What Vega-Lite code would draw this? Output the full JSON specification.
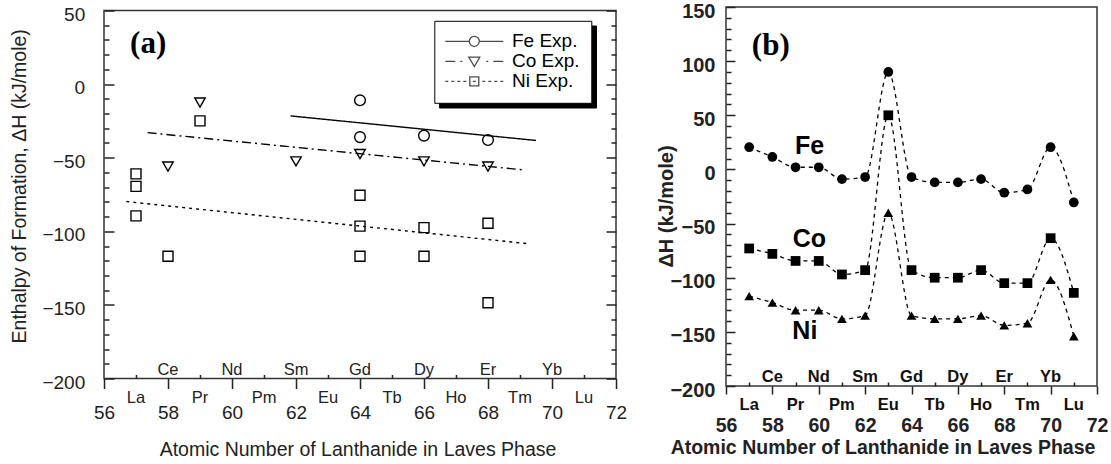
{
 "$schema": "https://vega.github.io/schema/vega-lite/v6.json",
 "padding": {"left": 8, "top": 0, "right": 0, "bottom": 0},
 "autosize": {"type": "pad"},
 "background": "white",
 "spacing": 27,
 "resolve": {"scale": {"shape": "independent", "fill": "independent", "strokeDash": "independent"}, "legend": {"shape": "independent", "fill": "independent", "strokeDash": "independent"}},
 "config": {
  "font": "Liberation Sans",
  "view": {"stroke": "#333", "strokeWidth": 1.5},
  "axis": {"grid": false, "domain": false, "tickColor": "#222", "tickWidth": 1.5, "labelColor": "#222", "titleColor": "#222", "labelOverlap": false, "labelFlush": false, "minExtent": 0}
 },
 "datasets": {
  "leftPts": [
   {"series": "Fe Exp.", "z": 64, "dH": -11}, {"series": "Fe Exp.", "z": 64, "dH": -36}, {"series": "Fe Exp.", "z": 66, "dH": -35}, {"series": "Fe Exp.", "z": 68, "dH": -38},
   {"series": "Co Exp.", "z": 58, "dH": -56}, {"series": "Co Exp.", "z": 59, "dH": -12.5}, {"series": "Co Exp.", "z": 62, "dH": -52.5}, {"series": "Co Exp.", "z": 64, "dH": -47.5}, {"series": "Co Exp.", "z": 66, "dH": -52.5}, {"series": "Co Exp.", "z": 68, "dH": -56},
   {"series": "Ni Exp.", "z": 57, "dH": -61}, {"series": "Ni Exp.", "z": 57, "dH": -69.5}, {"series": "Ni Exp.", "z": 57, "dH": -89.5}, {"series": "Ni Exp.", "z": 58, "dH": -117}, {"series": "Ni Exp.", "z": 59, "dH": -25}, {"series": "Ni Exp.", "z": 64, "dH": -75.5}, {"series": "Ni Exp.", "z": 64, "dH": -96.5}, {"series": "Ni Exp.", "z": 64, "dH": -117}, {"series": "Ni Exp.", "z": 66, "dH": -97.5}, {"series": "Ni Exp.", "z": 66, "dH": -117}, {"series": "Ni Exp.", "z": 68, "dH": -94.5}, {"series": "Ni Exp.", "z": 68, "dH": -148.5}
  ],
  "leftLines": [
   {"series": "Fe Exp.", "z": 61.83, "dH": -21.6}, {"series": "Fe Exp.", "z": 69.5, "dH": -38.3},
   {"series": "Co Exp.", "z": 57.36, "dH": -33}, {"series": "Co Exp.", "z": 69.16, "dH": -58.4},
   {"series": "Ni Exp.", "z": 56.7, "dH": -79.8}, {"series": "Ni Exp.", "z": 69.2, "dH": -108.3}
  ],
  "rightPts": [
   {"series": "Fe", "z": 57, "dH": 20.5}, {"series": "Fe", "z": 58, "dH": 11.5}, {"series": "Fe", "z": 59, "dH": 2}, {"series": "Fe", "z": 60, "dH": 2}, {"series": "Fe", "z": 61, "dH": -9}, {"series": "Fe", "z": 62, "dH": -7}, {"series": "Fe", "z": 63, "dH": 90}, {"series": "Fe", "z": 64, "dH": -7}, {"series": "Fe", "z": 65, "dH": -12}, {"series": "Fe", "z": 66, "dH": -12}, {"series": "Fe", "z": 67, "dH": -9}, {"series": "Fe", "z": 68, "dH": -21.5}, {"series": "Fe", "z": 69, "dH": -18.5}, {"series": "Fe", "z": 70, "dH": 20.5}, {"series": "Fe", "z": 71, "dH": -30.5},
   {"series": "Co", "z": 57, "dH": -73}, {"series": "Co", "z": 58, "dH": -78}, {"series": "Co", "z": 59, "dH": -84.5}, {"series": "Co", "z": 60, "dH": -84.5}, {"series": "Co", "z": 61, "dH": -97}, {"series": "Co", "z": 62, "dH": -93}, {"series": "Co", "z": 63, "dH": 50}, {"series": "Co", "z": 64, "dH": -93}, {"series": "Co", "z": 65, "dH": -100}, {"series": "Co", "z": 66, "dH": -100}, {"series": "Co", "z": 67, "dH": -93}, {"series": "Co", "z": 68, "dH": -105}, {"series": "Co", "z": 69, "dH": -105}, {"series": "Co", "z": 70, "dH": -63.5}, {"series": "Co", "z": 71, "dH": -114},
   {"series": "Ni", "z": 57, "dH": -117}, {"series": "Ni", "z": 58, "dH": -123}, {"series": "Ni", "z": 59, "dH": -130}, {"series": "Ni", "z": 60, "dH": -130}, {"series": "Ni", "z": 61, "dH": -138}, {"series": "Ni", "z": 62, "dH": -135}, {"series": "Ni", "z": 63, "dH": -40}, {"series": "Ni", "z": 64, "dH": -135}, {"series": "Ni", "z": 65, "dH": -138}, {"series": "Ni", "z": 66, "dH": -138}, {"series": "Ni", "z": 67, "dH": -135}, {"series": "Ni", "z": 68, "dH": -144}, {"series": "Ni", "z": 69, "dH": -142}, {"series": "Ni", "z": 70, "dH": -102}, {"series": "Ni", "z": 71, "dH": -154}
  ],
  "rightLabels": [
   {"label": "Fe", "z": 59.6, "dH": 22}, {"label": "Co", "z": 59.6, "dH": -64.6}, {"label": "Ni", "z": 59.4, "dH": -149}
  ],
  "elements": [
   {"z": 57, "el": "La"}, {"z": 58, "el": "Ce"}, {"z": 59, "el": "Pr"}, {"z": 60, "el": "Nd"}, {"z": 61, "el": "Pm"}, {"z": 62, "el": "Sm"}, {"z": 63, "el": "Eu"}, {"z": 64, "el": "Gd"}, {"z": 65, "el": "Tb"}, {"z": 66, "el": "Dy"}, {"z": 67, "el": "Ho"}, {"z": 68, "el": "Er"}, {"z": 69, "el": "Tm"}, {"z": 70, "el": "Yb"}, {"z": 71, "el": "Lu"}
  ]
 },
 "hconcat": [
  {
   "spacing": -4.5,
   "vconcat": [
    {"width": 512, "height": 1, "data": {"values": []}, "mark": "text", "view": {"stroke": null}},
    {
     "width": 512,
     "height": 368,
     "resolve": {"axis": {"x": "independent", "y": "independent"}, "legend": {"fill": "independent", "shape": "independent"}},
     "layer": [
      {
       "data": {"name": "leftLines"},
       "mark": {"type": "line", "color": "black", "strokeWidth": 1.4},
       "encoding": {
        "x": {"field": "z", "type": "quantitative", "scale": {"domain": [56, 72], "nice": false, "zero": false},
         "axis": {"orient": "bottom", "values": [56, 58, 60, 62, 64, 66, 68, 70, 72], "tickSize": 10, "labelFontSize": 19, "labelBaseline": "alphabetic", "labelPadding": 30, "title": "Atomic Number of Lanthanide in Laves Phase", "titleFontSize": 19.5, "titleFontWeight": "normal", "titleX": 253.5, "titleY": 76.6, "titleBaseline": "alphabetic", "titleAlign": "center"}},
        "y": {"field": "dH", "type": "quantitative", "scale": {"domain": [-200, 50], "nice": false, "zero": false},
         "axis": {"orient": "left", "values": [-200, -150, -100, -50, 0, 50], "tickSize": -10, "labelFontSize": 19, "labelPadding": 29.3, "labelOffset": 3.5, "title": "Enthalpy of Formation, ΔH (kJ/mole)", "titleFontSize": 19.5, "titleFontWeight": "normal", "titleX": -84.7, "titleY": 175.3, "titleAngle": 270, "titleBaseline": "middle", "titleAlign": "center"}},
        "strokeDash": {"field": "series", "type": "nominal", "scale": {"domain": ["Fe Exp.", "Co Exp.", "Ni Exp."], "range": [[1, 0], [9, 4, 2, 4], [3, 4]]}, "legend": null}
       }
      },
      {
       "data": {"name": "leftPts"},
       "transform": [{"filter": "datum.series == 'Fe Exp.'"}],
       "mark": {"type": "point", "shape": "circle", "filled": false, "color": "black", "size": 115, "strokeWidth": 1.4, "opacity": 1},
       "encoding": {"x": {"field": "z", "type": "quantitative", "axis": null}, "y": {"field": "dH", "type": "quantitative", "axis": null}}
      },
      {
       "data": {"name": "leftPts"},
       "transform": [{"filter": "datum.series == 'Co Exp.'"}],
       "mark": {"type": "point", "shape": "triangle-down", "filled": false, "color": "black", "size": 110, "strokeWidth": 1.4, "opacity": 1},
       "encoding": {"x": {"field": "z", "type": "quantitative", "axis": null}, "y": {"field": "dH", "type": "quantitative", "axis": null}}
      },
      {
       "data": {"name": "leftPts"},
       "transform": [{"filter": "datum.series == 'Ni Exp.'"}],
       "mark": {"type": "point", "shape": "square", "filled": false, "color": "black", "size": 100, "strokeWidth": 1.4, "opacity": 1},
       "encoding": {"x": {"field": "z", "type": "quantitative", "axis": null}, "y": {"field": "dH", "type": "quantitative", "axis": null}}
      },
      {
       "data": {"name": "leftLines"},
       "transform": [{"filter": "false"}],
       "mark": {"type": "point", "filled": true},
       "encoding": {
        "x": {"field": "z", "type": "quantitative", "axis": null},
        "y": {"field": "dH", "type": "quantitative", "axis": null},
        "fill": {"field": "series", "type": "nominal", "scale": {"domain": ["Ni Exp.", "Co Exp.", "Fe Exp."], "range": ["black", "black", "black"]},
         "legend": {"orient": "none", "legendX": 335, "legendY": 15, "zindex": 1, "title": null, "symbolType": "M-9.5,0H14.5M24.5,0H48.5M14.5,0A5,5,0,1,0,24.5,0A5,5,0,1,0,14.5,0", "symbolSize": 4, "symbolFillColor": "black", "symbolStrokeColor": "black", "labelColor": "black", "labelOpacity": 0, "labelFontSize": 19, "labelOffset": 47.7, "padding": 11, "rowPadding": 0, "fillColor": "black", "strokeColor": "black"}}
       }
      },
      {
       "data": {"name": "leftLines"},
       "transform": [{"filter": "false"}],
       "mark": {"type": "point", "filled": false, "color": "black"},
       "encoding": {
        "x": {"field": "z", "type": "quantitative", "axis": null},
        "y": {"field": "dH", "type": "quantitative", "axis": null},
        "shape": {"field": "series", "type": "nominal",
         "scale": {"domain": ["Fe Exp.", "Co Exp.", "Ni Exp."], "range": [
          "M-9.5,0H14.5M24.5,0H48.5M14.5,0A5,5,0,1,0,24.5,0A5,5,0,1,0,14.5,0",
          "M-9.5,0H0.5M5.5,0H7.5M31.5,0H33.5M38.5,0H48.5M14,-4.2H25L19.5,5.2Z",
          "M-9.5,0H-6.5M-3.5,0H-0.5M2.5,0H5.5M8.5,0H11.5M15,-4.5H24V4.5H15ZM18,0H21M27.5,0H30.5M33.5,0H36.5M39.5,0H42.5M45.5,0H48.5"]},
         "legend": {"orient": "none", "legendX": 330.3, "legendY": 10.3, "zindex": 2, "title": null, "symbolSize": 4, "symbolStrokeColor": "black", "symbolFillColor": "transparent", "symbolStrokeWidth": 1.3, "labelFontSize": 19, "labelColor": "black", "labelOffset": 47.7, "padding": 11, "rowPadding": 0, "fillColor": "white", "strokeColor": "black"}}
       }
      },
      {
       "data": {"values": [{"t": "(a)"}]},
       "mark": {"type": "text", "font": "Liberation Serif", "fontSize": 31, "fontWeight": "bold", "color": "black"},
       "encoding": {"x": {"datum": 57.38, "type": "quantitative", "axis": null}, "y": {"datum": 27.2, "type": "quantitative", "axis": null}, "text": {"field": "t"}}
      },
      {
       "data": {"name": "elements"},
       "transform": [{"filter": "datum.z % 2 == 0"}],
       "mark": {"type": "text", "baseline": "alphabetic", "dy": -3.7, "fontSize": 16.5, "color": "#222"},
       "encoding": {"x": {"field": "z", "type": "quantitative", "axis": null}, "y": {"datum": -200, "type": "quantitative", "axis": null}, "text": {"field": "el"}}
      },
      {
       "data": {"name": "elements"},
       "transform": [{"filter": "datum.z % 2 == 1"}],
       "mark": {"type": "text", "baseline": "alphabetic", "dy": 24, "fontSize": 16.5, "color": "#222"},
       "encoding": {"x": {"field": "z", "type": "quantitative", "axis": null}, "y": {"datum": -200, "type": "quantitative", "axis": null}, "text": {"field": "el"}}
      },
      {
       "data": {"name": "leftLines"},
       "transform": [{"filter": "false"}],
       "mark": "point",
       "encoding": {
        "x": {"field": "z", "type": "quantitative", "axis": {"orient": "bottom", "values": [57, 59, 61, 63, 65, 67, 69, 71], "tickSize": -4, "labels": false, "title": null}},
        "y": {"field": "dH", "type": "quantitative", "axis": {"orient": "left", "values": [-190, -180, -170, -160, -140, -130, -120, -110, -90, -80, -70, -60, -40, -30, -20, -10, 10, 20, 30, 40], "tickSize": -5, "labels": false, "title": null}}
       }
      },
      {
       "data": {"name": "leftLines"},
       "transform": [{"filter": "false"}],
       "mark": "point",
       "encoding": {
        "x": {"field": "z", "type": "quantitative", "axis": null},
        "y": {"field": "dH", "type": "quantitative", "axis": {"orient": "right", "values": [-200, -150, -100, -50, 0, 50], "tickSize": -10, "labels": false, "title": null}}
       }
      },
      {
       "data": {"name": "leftLines"},
       "transform": [{"filter": "false"}],
       "mark": "point",
       "encoding": {
        "x": {"field": "z", "type": "quantitative", "axis": null},
        "y": {"field": "dH", "type": "quantitative", "axis": {"orient": "right", "values": [-190, -180, -170, -160, -140, -130, -120, -110, -90, -80, -70, -60, -40, -30, -20, -10, 10, 20, 30, 40], "tickSize": -5, "labels": false, "title": null}}
       }
      }
     ]
    }
   ]
  },
  {
   "width": 371,
   "height": 379,
   "resolve": {"axis": {"x": "independent", "y": "independent"}},
   "layer": [
    {
     "data": {"name": "rightPts"},
     "mark": {"type": "line", "color": "black", "strokeWidth": 1.3, "strokeDash": [4, 4], "interpolate": "monotone"},
     "encoding": {
      "x": {"field": "z", "type": "quantitative", "scale": {"domain": [56, 72], "nice": false, "zero": false},
       "axis": {"orient": "bottom", "values": [56, 58, 60, 62, 64, 66, 68, 70, 72], "tickSize": 8, "labelFontSize": 19.5, "labelFontWeight": "bold", "labelBaseline": "alphabetic", "labelPadding": 37, "title": "Atomic Number of Lanthanide in Laves Phase", "titleFontSize": 19.5, "titleFontWeight": "bold", "titleX": 156.5, "titleY": 67, "titleBaseline": "alphabetic", "titleAlign": "center"}},
      "y": {"field": "dH", "type": "quantitative", "scale": {"domain": [-200, 150], "nice": false, "zero": false},
       "axis": {"orient": "left", "values": [-200, -150, -100, -50, 0, 50, 100, 150], "tickSize": -9, "labelFontSize": 20, "labelFontWeight": "bold", "labelPadding": 20, "labelOffset": 4, "title": "ΔH (kJ/mole)", "titleFontSize": 20, "titleFontWeight": "bold", "titleX": -60, "titleY": 199, "titleAngle": 270, "titleBaseline": "middle", "titleAlign": "center"}},
      "detail": {"field": "series", "type": "nominal"}
     }
    },
    {
     "data": {"name": "rightPts"},
     "mark": {"type": "point", "filled": true, "color": "black", "size": 95, "opacity": 1},
     "encoding": {
      "x": {"field": "z", "type": "quantitative", "axis": null},
      "y": {"field": "dH", "type": "quantitative", "axis": null},
      "shape": {"field": "series", "type": "nominal", "scale": {"domain": ["Fe", "Co", "Ni"], "range": ["circle", "square", "triangle-up"]}, "legend": null}
     }
    },
    {
     "data": {"name": "rightLabels"},
     "mark": {"type": "text", "fontSize": 25, "fontWeight": "bold", "color": "black"},
     "encoding": {"x": {"field": "z", "type": "quantitative", "axis": null}, "y": {"field": "dH", "type": "quantitative", "axis": null}, "text": {"field": "label"}}
    },
    {
     "data": {"values": [{"t": "(b)"}]},
     "mark": {"type": "text", "font": "Liberation Serif", "fontSize": 31, "fontWeight": "bold", "color": "black"},
     "encoding": {"x": {"datum": 57.93, "type": "quantitative", "axis": null}, "y": {"datum": 114, "type": "quantitative", "axis": null}, "text": {"field": "t"}}
    },
    {
     "data": {"name": "elements"},
     "transform": [{"filter": "datum.z % 2 == 0"}],
     "mark": {"type": "text", "baseline": "alphabetic", "dy": -4, "fontSize": 16.5, "fontWeight": "bold", "color": "#111"},
     "encoding": {"x": {"field": "z", "type": "quantitative", "axis": null}, "y": {"datum": -200, "type": "quantitative", "axis": null}, "text": {"field": "el"}}
    },
    {
     "data": {"name": "elements"},
     "transform": [{"filter": "datum.z % 2 == 1"}],
     "mark": {"type": "text", "baseline": "alphabetic", "dy": 24, "fontSize": 16.5, "fontWeight": "bold", "color": "#111"},
     "encoding": {"x": {"field": "z", "type": "quantitative", "axis": null}, "y": {"datum": -200, "type": "quantitative", "axis": null}, "text": {"field": "el"}}
    },
    {
     "data": {"name": "rightPts"},
     "transform": [{"filter": "false"}],
     "mark": "point",
     "encoding": {
      "x": {"field": "z", "type": "quantitative", "axis": {"orient": "bottom", "values": [57, 59, 61, 63, 65, 67, 69, 71], "tickSize": -4, "labels": false, "title": null}},
      "y": {"field": "dH", "type": "quantitative", "axis": {"orient": "left", "values": [-190, -180, -170, -160, -140, -130, -120, -110, -90, -80, -70, -60, -40, -30, -20, -10, 10, 20, 30, 40, 60, 70, 80, 90, 110, 120, 130, 140], "tickSize": -5, "labels": false, "title": null}}
     }
    }
   ]
  }
 ]
}
